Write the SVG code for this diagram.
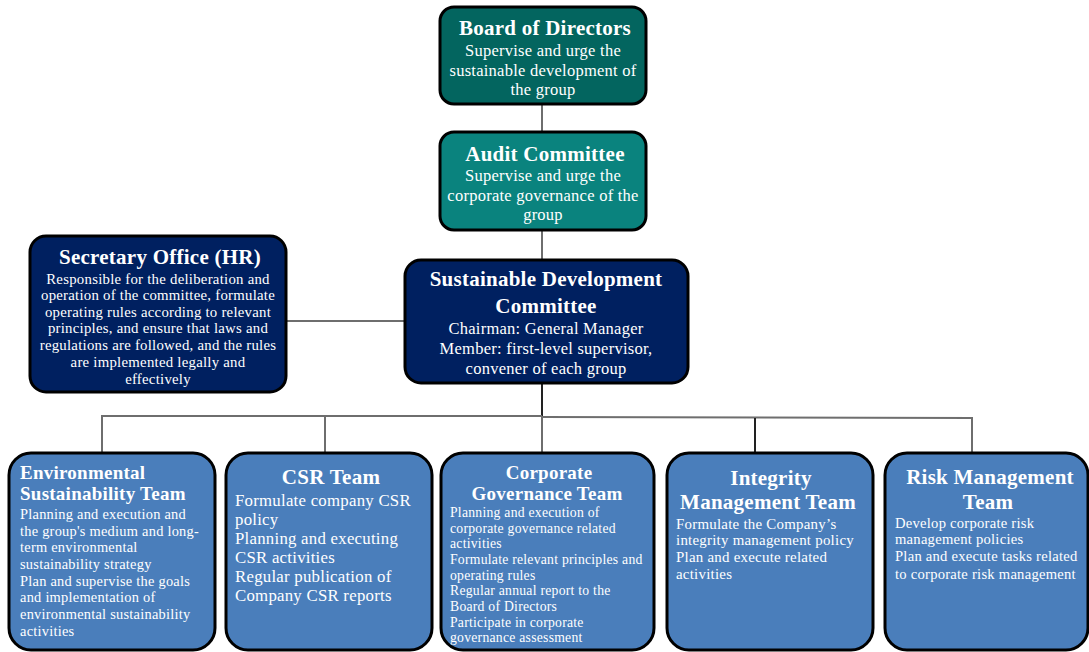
<svg xmlns="http://www.w3.org/2000/svg" width="1089" height="652" viewBox="0 0 1089 652">
<style>
.box{stroke:#000;stroke-width:3}
.t{font-family:"Liberation Serif","Times New Roman",serif;fill:#fff;letter-spacing:0.25px}
.h{font-weight:bold;font-size:21px}
.c{text-anchor:middle}
.ln{stroke:#6e6e6e;stroke-width:2;fill:none}
</style>
<rect width="1089" height="652" fill="#fff"/>
<g id="connectors">
<line class="ln" x1="542" y1="104" x2="542" y2="132"/>
<line class="ln" x1="542" y1="230" x2="542" y2="260"/>
<line class="ln" x1="286" y1="321" x2="405" y2="321"/>
<line class="ln" x1="542" y1="383" x2="542" y2="417" style="stroke:#222"/>
<polyline class="ln" points="102,453 102,416 542,416"/>
<polyline class="ln" points="542,417 972,418 972,453"/>
<line class="ln" x1="325" y1="416" x2="325" y2="453"/>
<line class="ln" x1="542" y1="416" x2="542" y2="453"/>
<line class="ln" x1="755" y1="418" x2="755" y2="453" style="stroke:#222"/>
</g>
<g id="board">
<rect class="box" x="440" y="7" width="206" height="97" rx="14" fill="#03655f"/>
<text class="t h c" x="545" y="35">Board of Directors</text>
<text class="t c" font-size="16.5" x="543" y="56">Supervise and urge the</text>
<text class="t c" font-size="16.5" x="543" y="76">sustainable development of</text>
<text class="t c" font-size="16.5" x="543" y="95">the group</text>
</g>
<g id="audit">
<rect class="box" x="440" y="132" width="206" height="98" rx="14" fill="#0a837e"/>
<text class="t h c" x="545" y="161">Audit Committee</text>
<text class="t c" font-size="16.5" x="543" y="181">Supervise and urge the</text>
<text class="t c" font-size="16.5" x="543" y="201">corporate governance of the</text>
<text class="t c" font-size="16.5" x="543" y="220">group</text>
</g>
<g id="secretary">
<rect class="box" x="30" y="236" width="256" height="156" rx="16" fill="#002060"/>
<text class="t h c" x="160" y="264">Secretary Office (HR)</text>
<g class="t c" font-size="14.8">
<text x="158" y="284">Responsible for the deliberation and</text>
<text x="158" y="300">operation of the committee, formulate</text>
<text x="158" y="317">operating rules according to relevant</text>
<text x="158" y="333">principles, and ensure that laws and</text>
<text x="158" y="350">regulations are followed, and the rules</text>
<text x="158" y="367">are implemented legally and</text>
<text x="158" y="384">effectively</text>
</g>
</g>
<g id="sdc">
<rect class="box" x="405" y="260" width="283" height="123" rx="16" fill="#002060"/>
<text class="t h c" x="546" y="286">Sustainable Development</text>
<text class="t h c" x="546" y="313">Committee</text>
<text class="t c" font-size="16.5" x="546" y="334">Chairman: General Manager</text>
<text class="t c" font-size="16.5" x="546" y="354">Member: first-level supervisor,</text>
<text class="t c" font-size="16.5" x="546" y="374">convener of each group</text>
</g>
<g id="env">
<rect class="box" x="9" y="453" width="206" height="197" rx="22" fill="#4a7ebb"/>
<text class="t" font-weight="bold" font-size="19" x="20" y="479">Environmental</text>
<text class="t" font-weight="bold" font-size="19" x="20" y="500">Sustainability Team</text>
<g class="t" font-size="14.4">
<text x="20" y="519">Planning and execution and</text>
<text x="20" y="536">the group's medium and long-</text>
<text x="20" y="552">term environmental</text>
<text x="20" y="569">sustainability strategy</text>
<text x="20" y="586">Plan and supervise the goals</text>
<text x="20" y="602">and implementation of</text>
<text x="20" y="619">environmental sustainability</text>
<text x="20" y="636">activities</text>
</g>
</g>
<g id="csr">
<rect class="box" x="226" y="453" width="206" height="197" rx="22" fill="#4a7ebb"/>
<text class="t h c" x="331" y="484">CSR Team</text>
<g class="t" font-size="16.8">
<text x="235" y="506">Formulate company CSR</text>
<text x="235" y="525">policy</text>
<text x="235" y="544">Planning and executing</text>
<text x="235" y="563">CSR activities</text>
<text x="235" y="582">Regular publication of</text>
<text x="235" y="601">Company CSR reports</text>
</g>
</g>
<g id="corp">
<rect class="box" x="441" y="453" width="213" height="197" rx="22" fill="#4a7ebb"/>
<text class="t c" font-weight="bold" font-size="19" x="549" y="479">Corporate</text>
<text class="t c" font-weight="bold" font-size="19" x="547" y="500">Governance Team</text>
<g class="t" font-size="13.7">
<text x="450" y="517">Planning and execution of</text>
<text x="450" y="533">corporate governance related</text>
<text x="450" y="548">activities</text>
<text x="450" y="564">Formulate relevant principles and</text>
<text x="450" y="580">operating rules</text>
<text x="450" y="595">Regular annual report to the</text>
<text x="450" y="611">Board of Directors</text>
<text x="450" y="627">Participate in corporate</text>
<text x="450" y="642">governance assessment</text>
</g>
</g>
<g id="integrity">
<rect class="box" x="667" y="453" width="206" height="197" rx="22" fill="#4a7ebb"/>
<text class="t h c" x="771" y="485">Integrity</text>
<text class="t h c" x="768" y="509">Management Team</text>
<g class="t" font-size="14.9">
<text x="676" y="529">Formulate the Company’s</text>
<text x="676" y="545">integrity management policy</text>
<text x="676" y="562">Plan and execute related</text>
<text x="676" y="579">activities</text>
</g>
</g>
<g id="risk">
<rect class="box" x="885" y="453" width="203" height="197" rx="22" fill="#4a7ebb"/>
<text class="t h c" x="990" y="484">Risk Management</text>
<text class="t h c" x="988" y="509">Team</text>
<g class="t" font-size="14.6">
<text x="895" y="528">Develop corporate risk</text>
<text x="895" y="544">management policies</text>
<text x="895" y="561">Plan and execute tasks related</text>
<text x="895" y="579">to corporate risk management</text>
</g>
</g>
</svg>
